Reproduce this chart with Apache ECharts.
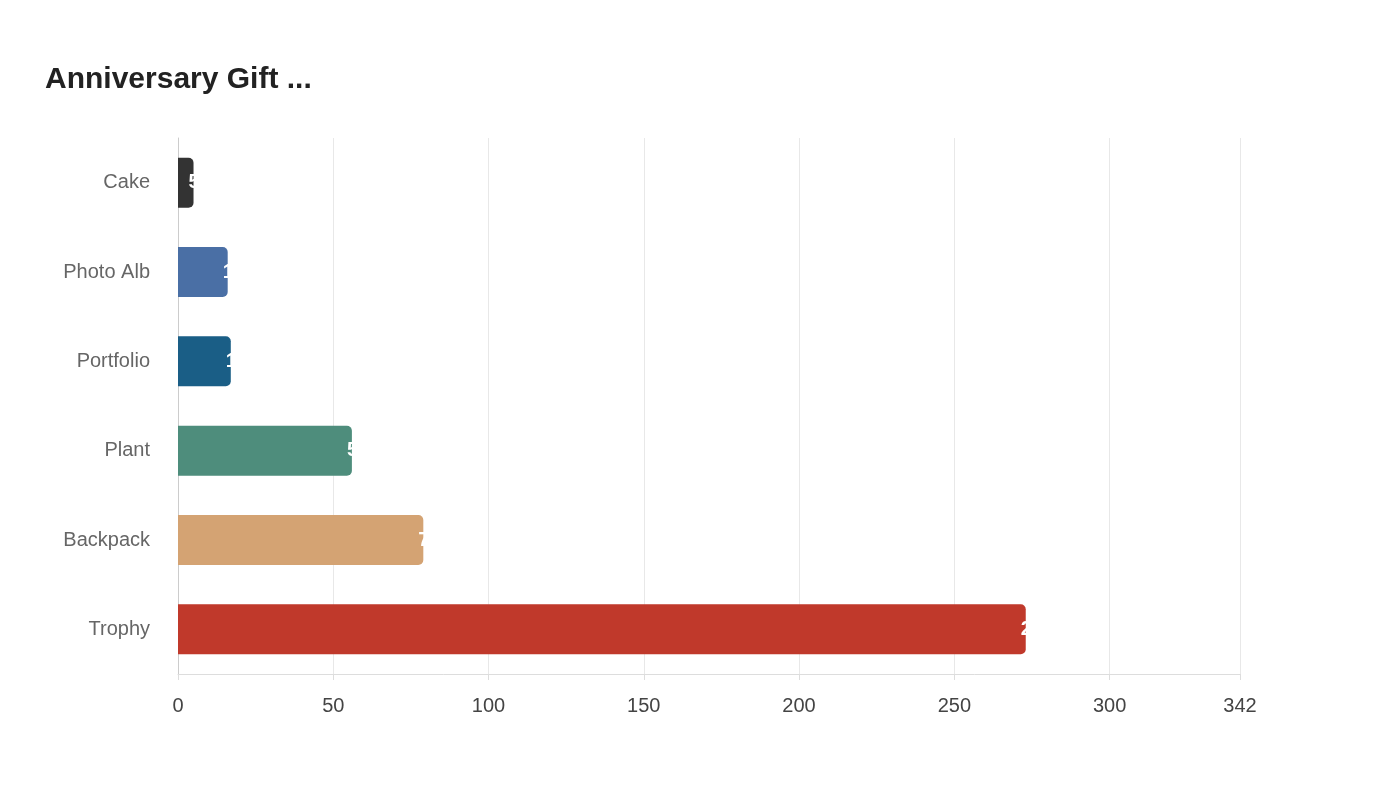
<!DOCTYPE html>
<html><head><meta charset="utf-8">
<script src="https://cdn.jsdelivr.net/npm/echarts@6/dist/echarts.min.js"></script>
<style>body{margin:0}#c{width:1400px;height:800px}</style></head>
<body><div id="c"></div>
<script>
const categories = ['Trophy','Backpack','Plant','Portfolio','Photo Alb','Cake'];
const values = [273, 79, 56, 17, 16, 5];
const colors = ['#c0392b','#d4a373','#4e8d7c','#1a5e86','#4a6fa5','#333333'];
const chart = echarts.init(document.getElementById('c'));
chart.setOption({
  animation:false,
  title:{text:'Anniversary Gift ...',left:40,top:60,textStyle:{fontFamily:'Liberation Sans, Arial',fontSize:30,fontWeight:'bold',color:'#222'}},
  grid:{left:178,right:160,top:138,bottom:126},
  xAxis:{type:'value',min:0,max:342,interval:50,
    axisLine:{show:true,lineStyle:{color:'#ddd'}},axisTick:{show:true,length:6,lineStyle:{color:'#ddd'}},
    splitLine:{lineStyle:{color:'#e8e8e8'}},
    axisLabel:{showMaxLabel:true,color:'#444',fontSize:20,margin:22,fontFamily:'Liberation Sans, Arial'}},
  yAxis:{type:'category',data:categories,
    axisLine:{lineStyle:{color:'#ccc'}},axisTick:{show:false},
    axisLabel:{color:'#666',fontSize:20,margin:28,fontFamily:'Liberation Sans, Arial'}},
  series:[{type:'bar',barWidth:50,
    data:values.map((v,i)=>({value:v,itemStyle:{color:colors[i]}})),
    itemStyle:{borderRadius:[0,5,5,0]},
    label:{show:true,position:'right',distance:-5,color:'#fff',fontSize:20,fontWeight:'bold'}}]
});
</script></body></html>
